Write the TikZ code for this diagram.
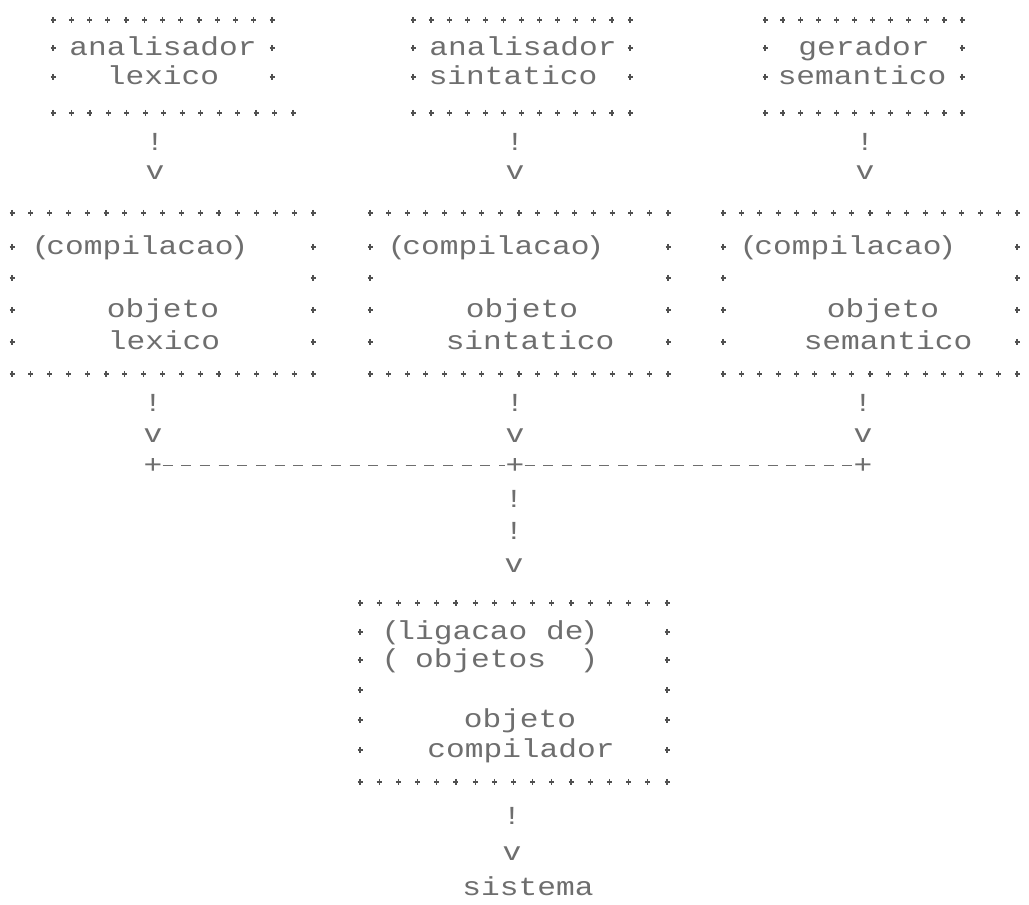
\documentclass[tikz,border=0pt]{standalone}
\usepackage{fontspec}
\newfontfamily\dotfont{Liberation Mono}[FakeStretch=1.2]
\usetikzlibrary{fit}
\definecolor{ink}{RGB}{110,110,110}
\definecolor{markink}{RGB}{80,80,80}

\tikzset{
  dotplus/.pic={\draw[line width=1.2pt, color=markink] (-2.5,0)--(2.5,0) (0,-3.1)--(0,3.1);},
  txt/.style={font=\dotfont\fontsize{26}{26}\selectfont, text=ink, inner sep=0pt,
              anchor=base, yshift=-7pt},
  frame/.style={inner sep=0pt},
  bus/.style={color=ink, line width=1.2pt, dash pattern=on 10pt off 8.7pt},
}

% parentheses set close to the word they enclose
\newcommand\opn{(\kern-4pt}
\newcommand\cls{\kern-4pt)}

% a row of small plus marks from x=#1 to x=#2, #3 marks, at height #4
\newcommand\plusrow[4]{%
  \foreach \k in {1,...,#3}{%
    \pgfmathsetmacro\px{#1+(#2-#1)*(\k-1)/(#3-1)}%
    \pic at (\px,#4) {dotplus};}}
% side marks at x=#1 and x=#2 on the rows listed in #3
\newcommand\plussides[3]{%
  \foreach \yy in {#3}{\pic at (#1,\yy) {dotplus}; \pic at (#2,\yy) {dotplus};}}
% box framed by plus marks: name, left, top-right, top count, bottom-right, bottom count, top y, bottom y, side rows
\newcommand\dotbox[9]{%
  \node[frame, fit={(#2,#7) (#5,#8)}] (#1) {};
  \plusrow{#2}{#3}{#4}{#7}
  \plusrow{#2}{#5}{#6}{#8}
  \plussides{#2}{#3}{#9}}

\begin{document}
\begin{tikzpicture}[x=1pt,y=-1pt]
\useasboundingbox (0,0) rectangle (1029,905);
\fill[white] (0,0) rectangle (1029,905);

% --- analysers and generator
\dotbox{alex}{53}{272}{13}{293}{14}{20}{113}{48,77}
\dotbox{asin}{413}{630}{13}{630}{13}{20}{113}{48,77}
\dotbox{gsem}{765}{962}{12}{962}{12}{20}{113}{48,77}
\node[txt] (alexA) at (163,48) {analisador};
\node[txt] (alexB) at (163,77) {lexico};
\node[txt] (asinA) at (523,48) {analisador};
\node[txt] (asinB) at (513,77) {sintatico};
\node[txt] (gsemA) at (864,48) {gerador};
\node[txt] (gsemB) at (862,77) {semantico};

\node[txt] (alexBang) at (155,143) {!};
\node[txt] (alexV)    at (155,172) {v};
\node[txt] (asinBang) at (515,143) {!};
\node[txt] (asinV)    at (515,172) {v};
\node[txt] (gsemBang) at (865,143) {!};
\node[txt] (gsemV)    at (865,172) {v};

% --- compiled objects
\dotbox{olex}{12}{313}{17}{313}{17}{213}{374}{247,278,310,342}
\dotbox{osin}{370}{668}{17}{668}{17}{213}{374}{247,278,310,342}
\dotbox{osem}{723}{1017}{17}{1017}{17}{213}{374}{247,278,310,342}
\node[txt] (olexA) at (140,247) {\opn compilacao\cls};
\node[txt] (olexB) at (163,310) {objeto};
\node[txt] (olexC) at (164,342) {lexico};
\node[txt] (osinA) at (496,247) {\opn compilacao\cls};
\node[txt] (osinB) at (522,310) {objeto};
\node[txt] (osinC) at (530,342) {sintatico};
\node[txt] (osemA) at (848,247) {\opn compilacao\cls};
\node[txt] (osemB) at (883,310) {objeto};
\node[txt] (osemC) at (888,342) {semantico};

\node[txt] (olexBang) at (153,404) {!};
\node[txt] (olexV)    at (153,435) {v};
\node[txt] (osinBang) at (515,404) {!};
\node[txt] (osinV)    at (515,435) {v};
\node[txt] (osemBang) at (863,404) {!};
\node[txt] (osemV)    at (863,435) {v};

% --- joining line
\node[txt] (jL) at (153,466) {+};
\node[txt] (jM) at (515,466) {+};
\node[txt] (jR) at (863,466) {+};
\draw[bus] (jL) -- (jM);
\draw[bus] (jM) -- (jR);
\node[txt] (jBangA) at (514,500) {!};
\node[txt] (jBangB) at (514,532) {!};
\node[txt] (jV)     at (514,565) {v};

% --- linked object
\dotbox{ocomp}{360}{667}{17}{667}{17}{603}{782}{632,660,690,720,750}
\node[txt] (ocompA) at (490,632) {\opn ligacao de\cls};
\node[txt] (ocompB) at (490,660) {\opn\hphantom{x}objetos\hphantom{xx}\cls};
\node[txt] (ocompC) at (520,720) {objeto};
\node[txt] (ocompD) at (521,750) {compilador};
\node[txt] (ocompBang) at (512,817) {!};
\node[txt] (ocompV)    at (512,853) {v};
\node[txt] (sis) at (528,888) {sistema};
\end{tikzpicture}
\end{document}
